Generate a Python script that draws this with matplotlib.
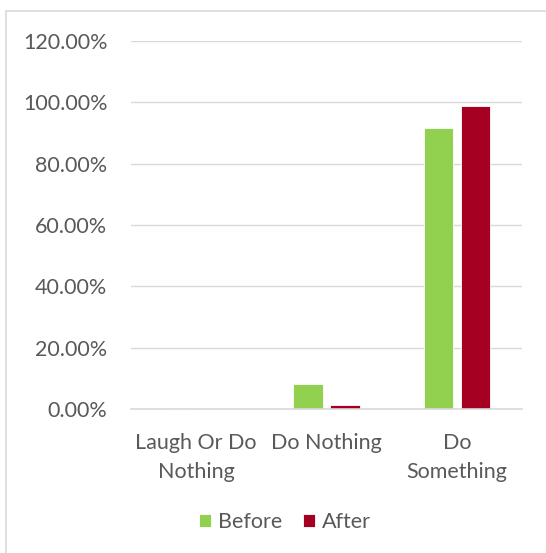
import numpy as np
import matplotlib.pyplot as plt
from matplotlib.patches import Rectangle
from matplotlib.ticker import FuncFormatter

categories = ["Laugh Or Do\nNothing", "Do Nothing", "Do\nSomething"]
before = [0.3, 8.1, 91.5]
after = [0.0, 1.3, 98.7]
series_names = ["Before", "After"]

green = "#92D050"
red = "#A50021"
grey = "#D9D9D9"
text_c = "#595959"

plt.rcParams["font.family"] = ["Lato", "DejaVu Sans"]

fig = plt.figure(figsize=(5.46, 5.53), dpi=100)
ax = fig.add_axes([0.240, 0.2604, 0.716, 0.6654])

x = np.arange(len(categories))
w = 0.225
gap = 0.03
ax.bar(x - w / 2 - gap, before, w, color=green, edgecolor="white", linewidth=0.6,
       label=series_names[0], zorder=3)
ax.bar(x + w / 2 + gap, after, w, color=red, edgecolor="white", linewidth=0.6,
       label=series_names[1], zorder=3)

ax.set_ylim(0, 120)
ax.set_xlim(-0.5, 2.5)
ax.set_yticks(np.arange(0, 121, 20))
ax.yaxis.set_major_formatter(FuncFormatter(lambda v, p: f"{v:.2f}%"))
ax.set_xticks(x)
ax.set_xticklabels(categories, linespacing=1.6)
ax.tick_params(length=0, colors=text_c)
ax.tick_params(axis="x", labelsize=15.5, pad=17)
ax.tick_params(axis="y", labelsize=15.5, pad=17)
ax.grid(axis="y", color=grey, linewidth=1, zorder=0)
for s in ["top", "left", "right"]:
    ax.spines[s].set_visible(False)
ax.spines["bottom"].set_color(grey)
ax.spines["bottom"].set_linewidth(1.2)
ax.spines["bottom"].set_zorder(4)

leg = fig.legend(loc="center", bbox_to_anchor=(285 / 546, 1 - 522 / 553), ncol=2,
                 frameon=False, fontsize=15.5, handlelength=0.55, handleheight=0.55,
                 handletextpad=0.3, columnspacing=1.0)
for t in leg.get_texts():
    t.set_color(text_c)

# chart area border
fig.patches.append(Rectangle((6 / 546, -0.01), 1.0, 1 - 11 / 553 + 0.01,
                             transform=fig.transFigure, fill=False,
                             edgecolor=grey, linewidth=1.2))

fig.savefig("out.png", dpi=100)
